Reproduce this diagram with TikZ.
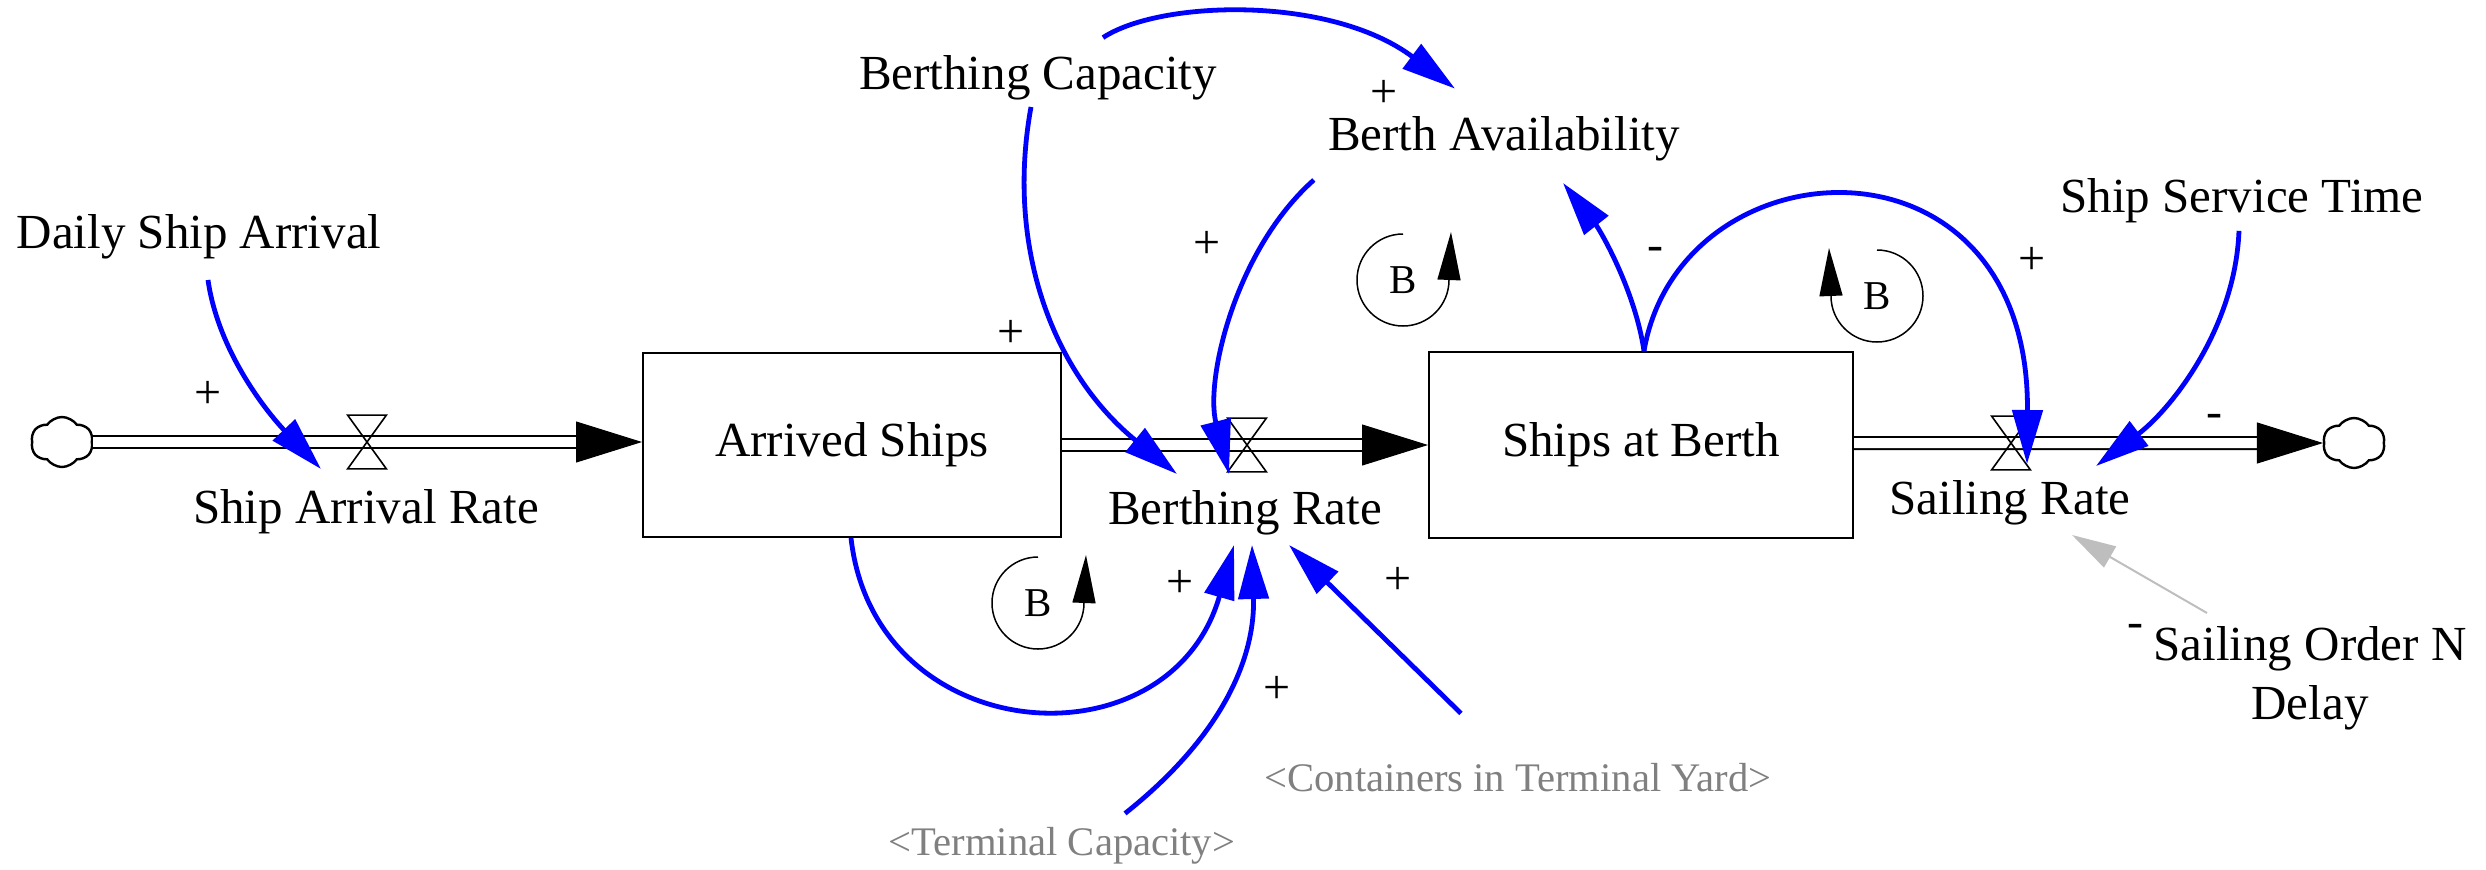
\documentclass[tikz,border=0pt]{standalone}
\usepackage{fontspec}
\setmainfont{Liberation Serif}
\usetikzlibrary{arrows.meta,calc,shapes.symbols}
\definecolor{linkblue}{RGB}{0,0,255}
\definecolor{shadowgrey}{RGB}{128,128,128}
\definecolor{faintgrey}{RGB}{190,190,190}
\begin{document}
\begin{tikzpicture}[x=0.5pt,y=-0.5pt,
  lbl/.style={font=\fontsize{24.5}{29.5}\selectfont, inner sep=0pt, anchor=base},
  shadowlbl/.style={font=\fontsize{20.3}{24}\selectfont, text=shadowgrey, inner sep=0pt, anchor=base},
  stock/.style={draw, line width=1pt, inner sep=0pt, font=\fontsize{24.5}{29.5}\selectfont},
  valve/.style={inner sep=0pt, minimum width=19pt, minimum height=26.5pt},
  valvedraw/.style={line width=0.8pt, line join=miter},
  cloudnode/.style={cloud, draw, cloud puffs=6, cloud puff arc=110, minimum width=31pt, minimum height=25pt, inner sep=0pt, line width=1.2pt},
  pipe/.style={draw, line width=1pt, double=white, double distance=5pt, shorten >=32pt},
  pipetip/.style={line width=0.5pt, -{Triangle[length=33pt,width=20.5pt]}},
  link/.style={draw=linkblue, line width=2.4pt, -{Triangle[length=27pt,width=15pt]}},
  greylink/.style={draw=faintgrey, line width=1pt, -{Triangle[length=22pt,width=12pt]}},
  pol/.style={font=\fontsize{24}{28}\selectfont, inner sep=0pt},
  looplbl/.style={font=\fontsize{20.5}{24}\selectfont, inner sep=0pt},
  loopline/.style={line width=0.75pt, -{Triangle[length=24pt,width=11.5pt]}},
]
\useasboundingbox (0,0) rectangle (2486,869);

% stocks
\node[stock, minimum width=209pt, minimum height=92pt] (ash) at (852,445) {Arrived Ships};
\node[stock, minimum width=212pt, minimum height=93pt] (sab) at (1641,445) {Ships at Berth};
% clouds
\node[cloudnode] (cloudL) at (62,442) {};
\node[cloudnode] (cloudR) at (2354,443) {};
% valves
\node[valve] (v1) at (367,442) {};
\node[valve] (v2) at (1247,445) {};
\node[valve] (v3) at (2011,443) {};

% pipes
\draw[pipe] (cloudL.east) -- (cloudL.east -| ash.west);
\draw[pipetip] ($(cloudL.east -| ash.west)+(-50,0)$) -- (cloudL.east -| ash.west);
\draw[pipe] (ash.east) -- (sab.west);
\draw[pipetip] ($(sab.west)+(-50,0)$) -- (sab.west);
\draw[pipe] (sab.east |- cloudR) -- (cloudR.west);
\draw[pipetip] ($(cloudR.west)+(-50,0)$) -- (cloudR.west);

% valve glyphs
\foreach \v in {v1,v2,v3}{
  \draw[valvedraw] (\v.north west) -- (\v.north east) -- (\v.south west) -- (\v.south east) -- cycle;
}

% labels
\node[lbl] (dsa) at (199,248) {Daily Ship Arrival};
\node[lbl] (sar) at (366,523) {Ship Arrival Rate};
\node[lbl] (bca) at (1038,89) {Berthing Capacity};
\node[lbl] (bav) at (1504,150) {Berth Availability};
\node[lbl] (bra) at (1245,524) {Berthing Rate};
\node[lbl] (sst) at (2242,212) {Ship Service Time};
\node[lbl] (sra) at (2010,514) {Sailing Rate};
\node[lbl, anchor=north, align=center] (son) at (2310,626) {Sailing Order N\\Delay};
\node[shadowlbl] (tca) at (1062,855) {<Terminal Capacity>};
\node[shadowlbl] (cty) at (1518,791) {<Containers in Terminal Yard>};

% links
\draw[link] ($(dsa.south)+(9,21)$) .. controls (218,350) and (265,410) .. ($(v1)+(-46,27)$);
\draw[link] ($(bca.north)+(65,-17)$) .. controls (1160,0) and (1330,-5) .. ($(bav.north)+(-49,-27)$);
\draw[link] ($(bca.south)+(-7,7)$) .. controls (1005,250) and (1055,375) .. ($(v2)+(-70,29)$);
\draw[link] ($(bav.south west)+(-14,19)$) .. controls (1235,250) and (1205,380) .. ($(v2)+(-18,29)$);
\draw[link] ($(sab.north)+(3,0)$) .. controls (1635,290) and (1600,230) .. ($(bav.south)+(59,22)$);
\draw[link] ($(sab.north)+(3,0)$) .. controls (1680,140) and (2030,120) .. ($(v3)+(16,21)$);
\draw[link] ($(sst.south)+(-3,8)$) .. controls (2235,330) and (2170,410) .. ($(v3)+(85,23)$);
\draw[link] ($(ash.south)+(-1,0)$) .. controls (875,750) and (1170,770) .. ($(bra.south)+(-11,10)$);
\draw[link] ($(tca.north)+(63,-13)$) .. controls (1230,730) and (1255,650) .. ($(bra.south)+(7,10)$);
\draw[link] ($(cty.north)+(-57,-49)$) -- ($(bra.south)+(44,10)$);
\draw[greylink] ($(son.north)+(-103,-13)$) -- ($(sra.south)+(62,10)$);

% polarities
\node[pol] (p1) at (208,395) {+};
\node[pol] (p2) at (1384,94) {+};
\node[pol] (p3) at (1011,334) {+};
\node[pol] (p4) at (1207,245) {+};
\node[pol] (p5) at (1655,254) {-};
\node[pol] (p6) at (2032,261) {+};
\node[pol] (p7) at (2214,421) {-};
\node[pol] (p8) at (1180,584) {+};
\node[pol] (p9) at (1277,690) {+};
\node[pol] (p10) at (1398,581) {+};
\node[pol] (p11) at (2135,631) {-};

% loop markers
\node[looplbl] (L1) at (1038,603) {B};
\draw[loopline] ($(L1)+(0,-46)$) arc[start angle=90, end angle=360, radius=23pt] -- ++(2,-48);
\node[looplbl] (L2) at (1403,280) {B};
\draw[loopline] ($(L2)+(0,-46)$) arc[start angle=90, end angle=360, radius=23pt] -- ++(2,-48);
\node[looplbl] (L3) at (1877,296) {B};
\draw[loopline] ($(L3)+(0,-46)$) arc[start angle=90, end angle=-180, radius=23pt] -- ++(-2,-48);
\end{tikzpicture}
\end{document}
